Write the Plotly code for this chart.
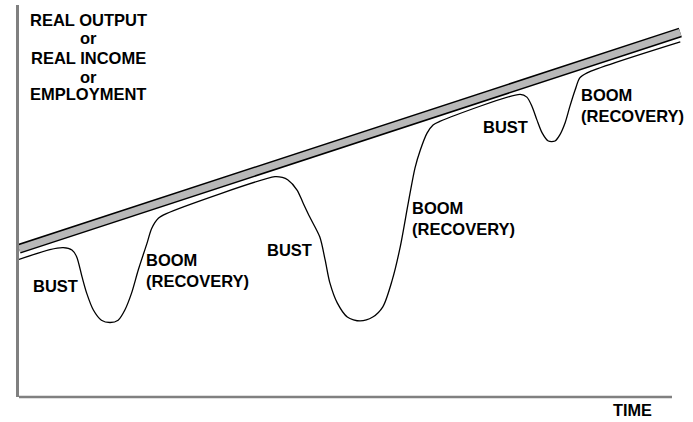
# Business cycle sketch: trend growth vs. actual output with boom and bust phases

import plotly.graph_objects as go

# Long-run trend (start and end of the band)
trend_time = [0, 98.7]
trend_level = [37.8, 93.0]

cycle_time = [0.0, 4.6, 6.6, 7.9, 8.6, 9.4, 10.1, 11.1, 12.3, 13.6, 14.8, 15.8,
              16.8, 17.8, 19.1, 19.8, 20.8, 22.0, 38.2, 39.3, 40.1, 41.5, 42.4,
              43.4, 44.9, 45.7, 46.4, 47.5, 49.0, 50.9, 52.8, 54.3, 55.7, 56.9,
              58.1, 59.1, 59.9, 60.9, 61.8, 62.8, 74.8, 75.8, 76.6, 77.3, 78.1,
              79.0, 80.0, 80.7, 81.5, 82.2, 83.0, 83.7, 84.8, 98.7]
cycle_level = [35.1, 37.6, 38.1, 37.5, 35.8, 30.7, 26.5, 22.2, 19.6, 19.0, 19.6,
               22.2, 26.5, 32.4, 39.2, 43.0, 45.6, 46.8, 56.2, 56.0, 55.4, 52.8,
               49.5, 45.9, 40.8, 34.9, 29.1, 24.0, 20.4, 19.4, 20.4, 23.0, 29.8,
               38.3, 49.5, 58.4, 63.0, 67.3, 69.4, 70.3, 77.2, 76.5, 74.0, 70.7,
               67.3, 65.3, 65.3, 66.8, 69.9, 74.0, 78.3, 81.4, 82.7, 90.6]

# Phase labels
phase_text = ["BUST", "BOOM<br>(RECOVERY)", "BUST", "BOOM<br>(RECOVERY)",
              "BUST", "BOOM<br>(RECOVERY)"]
phase_time = [5.45, 18.66, 40.37, 58.36, 72.54, 83.58]
phase_level = [28.4, 32.3, 37.5, 45.6, 69.0, 74.3]

# Vertical axis caption, one line each
ylabel_lines = ["REAL OUTPUT", "or", "REAL INCOME", "or", "EMPLOYMENT"]
ylabel_level = [96.2, 91.6, 86.5, 81.7, 77.3]

font_family = "Arial, Liberation Sans, sans-serif"

fig = go.Figure()

# Trend band: black outline with grey fill
fig.add_trace(go.Scatter(x=trend_time, y=trend_level, mode="lines",
                         line=dict(color="black", width=10),
                         hoverinfo="skip", showlegend=False))
fig.add_trace(go.Scatter(x=trend_time, y=trend_level, mode="lines",
                         line=dict(color="#b8b8b8", width=7),
                         hoverinfo="skip", showlegend=False))

# Actual output
fig.add_trace(go.Scatter(x=cycle_time, y=cycle_level, mode="lines",
                         line=dict(color="black", width=1.3, shape="spline",
                                   smoothing=0.8),
                         hoverinfo="skip", showlegend=False))

annotations = []
for text, t, v in zip(phase_text, phase_time, phase_level):
    anchor = "center" if text == "BUST" else "left"
    annotations.append(dict(x=t, y=v, xref="x", yref="y", text=f"<b>{text}</b>",
                            showarrow=False, xanchor=anchor, yanchor="middle",
                            align="left",
                            font=dict(family=font_family, size=16.5, color="black")))

for text, v in zip(ylabel_lines, ylabel_level):
    annotations.append(dict(x=10.37, y=v, xref="x", yref="y", text=f"<b>{text}</b>",
                            showarrow=False, xanchor="center", yanchor="middle",
                            borderpad=0,
                            font=dict(family=font_family, size=16.5, color="black")))

# axis caption sits below the plot area, so place it in paper units
annotations.append(dict(x=0.9157, y=-0.033, xref="paper", yref="paper",
                        text="<b>TIME</b>", showarrow=False,
                        xanchor="center", yanchor="middle",
                        font=dict(family=font_family, size=16.3, color="black")))

fig.update_layout(
    width=693, height=422,
    margin=dict(l=19, r=4, t=5, b=25),
    paper_bgcolor="white", plot_bgcolor="white",
    annotations=annotations,
    shapes=[dict(type="line", xref="paper", yref="paper", x0=0, x1=0.9746,
                 y0=0, y1=0, line=dict(color="#808080", width=2.5))],
)
fig.update_xaxes(range=[0, 100], showgrid=False, zeroline=False,
                 showticklabels=False, ticks="")
fig.update_yaxes(range=[0, 100], showgrid=False, zeroline=False,
                 showticklabels=False, ticks="", showline=True,
                 linecolor="#808080", linewidth=2.5)

# drop the page's default body margin so the figure sits at the window corner
fig.write_html("out.html", config={"displayModeBar": False},
               post_script="document.body.style.margin='0';")
